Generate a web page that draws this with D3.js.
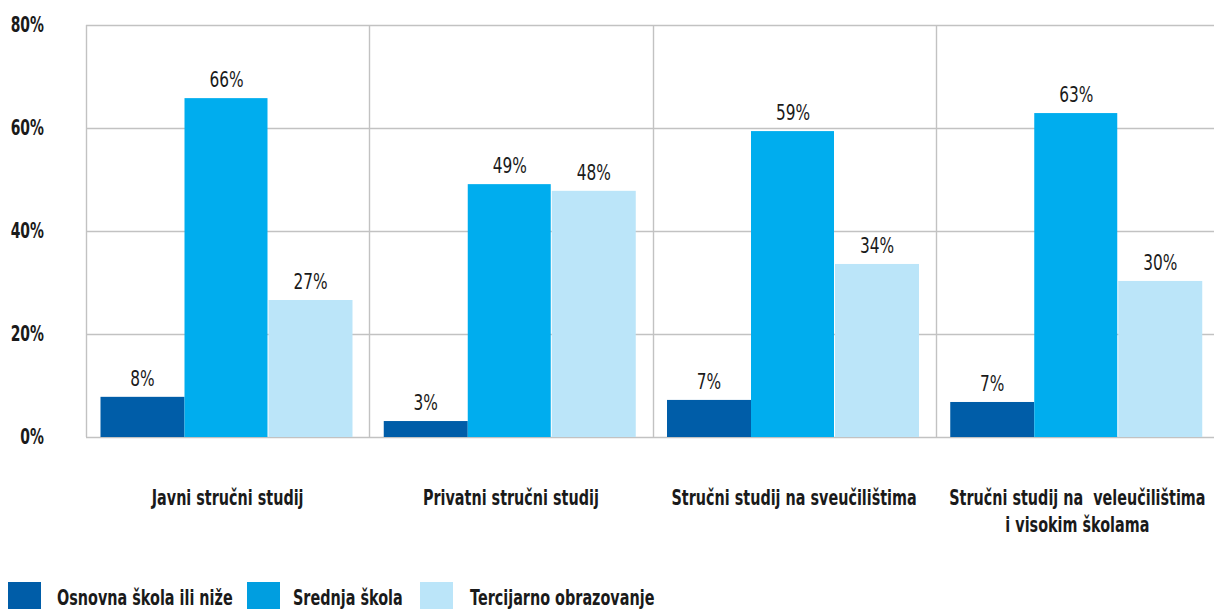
<!DOCTYPE html>
<html><head><meta charset="utf-8">
<script src="https://cdn.jsdelivr.net/npm/d3@7/dist/d3.min.js"></script>
<style>body{margin:0;background:#fff}svg{display:block}text{white-space:pre}</style>
</head><body><svg id="c" width="1214" height="609"></svg>
<script>
const categories = [["Javni stručni studij"],["Privatni stručni studij"],["Stručni studij na sveučilištima"],["Stručni studij na  veleučilištima","i visokim školama"]];
const seriesNames = ["Osnovna škola ili niže","Srednja škola","Tercijarno obrazovanje"];
const osnovna = [7.8, 3.1, 7.2, 6.8];
const srednja = [65.8, 49.1, 59.4, 62.9];
const tercijarno = [26.6, 47.8, 33.6, 30.3];
const labels = [["8%","66%","27%"],["3%","49%","48%"],["7%","59%","34%"],["7%","63%","30%"]];
const yTicks = [0,20,40,60,80];
const colors = ["#005da8","#00adee","#bbe5f9"];
const legendColors = ["#005da8","#009ee0","#bbe5f9"];

(function(){
const font = "'DejaVu Sans',sans-serif";
const svg = d3.select("#c");
const mL = 86, mR = 1219, mT = 25, mB = 437;
const x = d3.scaleBand().domain(d3.range(4)).range([mL,mR]);
const xi = d3.scaleBand().domain(d3.range(3)).range([14.5,266.5]);
const y = d3.scaleLinear().domain([0,80]).range([mB,mT]);
const series = [osnovna, srednja, tercijarno];
const grid = "#c2c2c2";

function label(parent, tx, ty, txt, size, weight, anchor, sx){
  const gg = parent.append("g").attr("transform",`translate(${tx},${ty}) scale(${sx},1)`);
  gg.append("text").attr("text-anchor",anchor).attr("font-family",font).attr("font-weight",weight)
    .attr("font-size",size).attr("fill","#1a1a1a").text(txt);
  return gg;
}

svg.append("g").selectAll("line").data(yTicks).join("line")
  .attr("x1",mL).attr("x2",1214).attr("y1",d=>y(d)+0.5).attr("y2",d=>y(d)+0.5)
  .attr("stroke",grid).attr("stroke-width",1.4);
svg.append("g").selectAll("line").data(d3.range(4)).join("line")
  .attr("x1",d=>Math.round(x(d))+0.5).attr("x2",d=>Math.round(x(d))+0.5).attr("y1",mT).attr("y2",mB)
  .attr("stroke",grid).attr("stroke-width",1.4);

const yl = svg.append("g");
yTicks.forEach(d=>label(yl, 44, y(d)+7, d+"%", 20.5, "bold", "end", 0.68));

const g = svg.append("g").selectAll("g").data(d3.range(4)).join("g").attr("transform",d=>`translate(${x(d)},0)`);
g.selectAll("rect").data(c=>series.map((s,i)=>({i,v:s[c]}))).join("rect")
  .attr("x",d=>xi(d.i)).attr("width",d=>xi.bandwidth()-(d.i==1?1:0)).attr("y",d=>y(d.v)).attr("height",d=>y(0)-y(d.v))
  .attr("fill",d=>colors[d.i]);
g.each(function(c){
  const sel = d3.select(this);
  series.forEach((s,i)=>label(sel, xi(i)+xi.bandwidth()/2, y(s[c])-11, labels[c][i], 22, "normal", "middle", 0.7));
  categories[c].forEach((line,k)=>label(sel, x.bandwidth()/2, 505+k*27, line, 21, "bold", "middle", 0.685));
});

const legX = [8,247,420], legT=[57,293,470];
const lg = svg.append("g");
seriesNames.forEach((d,i)=>{
  lg.append("rect").attr("x",legX[i]).attr("y",582).attr("width",33).attr("height",27).attr("fill",legendColors[i]);
  label(lg, legT[i], 605, d, 21.5, "bold", "start", 0.67);
});
})();
</script></body></html>
